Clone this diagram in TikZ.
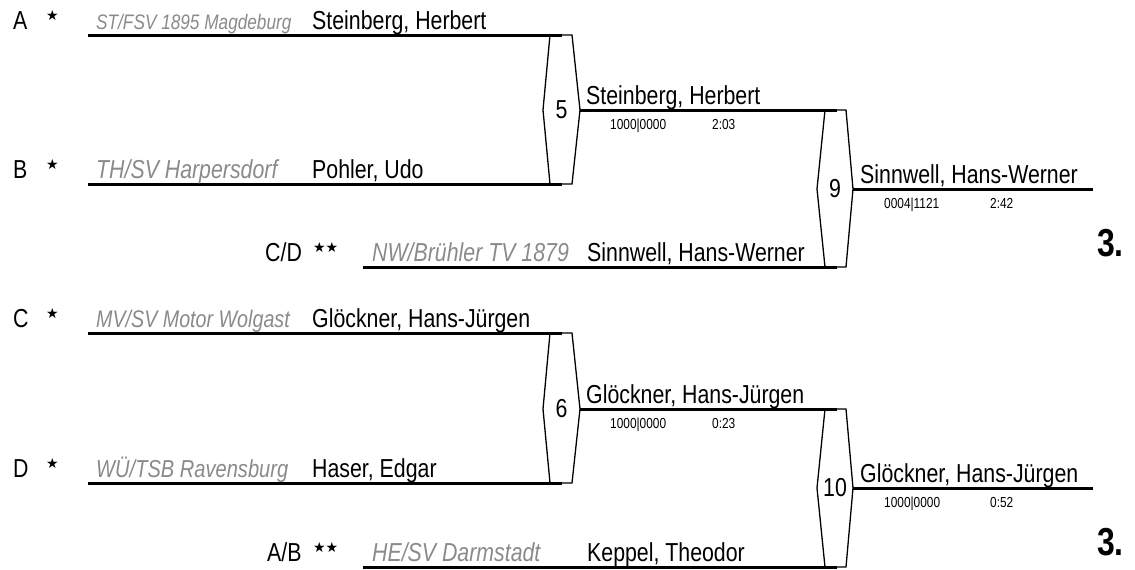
\documentclass[tikz,border=0pt]{standalone}
\usepackage{fontspec}
\setmainfont{Liberation Sans}[FakeStretch=0.82]
\newfontfamily\symfont{DejaVu Sans}
\definecolor{clubgray}{HTML}{8A8A8A}
\tikzset{
  x=1pt, y=-1pt,
  heavy/.style={line width=3pt},
  hexbox/.style={line width=1.3pt, line join=miter},
  lbl/.style={anchor=base west, inner sep=0pt, font=\fontsize{26}{28}\selectfont},
  club/.style={anchor=base west, inner sep=0pt, text=clubgray},
  score/.style={anchor=base west, inner sep=0pt, font=\fontsize{14.5}{16}\selectfont},
  seed/.style={anchor=base west, inner sep=0pt, font=\symfont\fontsize{14}{16}\selectfont},
  place/.style={anchor=base west, inner sep=0pt, font=\fontsize{39}{42}\selectfont\bfseries},
  num/.style={inner sep=0pt, font=\fontsize{26}{28}\selectfont},
}
% name, xl, xlm, xr, xrm, ytop, ymid, ybot, number
\newcommand\matchhex[9]{%
  \draw[hexbox] (#2,#6) -- (#4,#6) -- (#5,#7) -- (#4,#8) -- (#2,#8) -- (#3,#7) -- cycle;
  \node[num] (#1) at ({(#3+#5)/2},#7) {#9};
  \coordinate (#1-out) at (#5,#7);
}
\begin{document}
\begin{tikzpicture}
\useasboundingbox (0,0) rectangle (1135,570);

% ---------------- upper bracket ----------------
\matchhex{m5}{550}{543}{572}{580}{35}{110}{184}{5}
\matchhex{m9}{825}{817}{846}{853}{110}{189}{267}{9}

\coordinate (A-s) at (88,35);   \coordinate (A-e) at (562,35);
\coordinate (B-s) at (88,184);  \coordinate (B-e) at (562,184);
\coordinate (CD-s) at (363,267); \coordinate (CD-e) at (837,267);
\coordinate (w5-e) at (837,110);
\coordinate (w9-e) at (1093,189);

\draw[heavy] (A-s) -- (A-e);
\draw[heavy] (B-s) -- (B-e);
\draw[heavy] (CD-s) -- (CD-e);
\draw[heavy] (m5-out) -- (w5-e);
\draw[heavy] (m9-out) -- (w9-e);

\node[lbl] (A-l) at (13,29) {A};
\node[seed] (A-st) at (46,20) {★};
\node[club, font=\fontsize{21}{24}\selectfont\itshape] (A-c) at (96,29) {ST/FSV 1895 Magdeburg};
\node[lbl] (A-n) at (312,29) {Steinberg, Herbert};

\node[lbl] (B-l) at (13,178) {B};
\node[seed] (B-st) at (46,169) {★};
\node[club, font=\fontsize{26}{28}\selectfont\itshape] (B-c) at (96,178) {TH/SV Harpersdorf};
\node[lbl] (B-n) at (312,178) {Pohler, Udo};

\node[lbl] (w5-n) at (586,104) {Steinberg, Herbert};
\node[score] (w5-r) at (610,129) {1000|0000};
\node[score] (w5-t) at (712,129) {2:03};

\node[lbl] (CD-l) at (265,261) {C/D};
\node[seed] (CD-st) at (313,252) {★★};
\node[club, font=\fontsize{26}{28}\selectfont\itshape] (CD-c) at (372,261) {NW/Brühler TV 1879};
\node[lbl] (CD-n) at (587,261) {Sinnwell, Hans-Werner};

\node[lbl] (w9-n) at (860,183) {Sinnwell, Hans-Werner};
\node[score] (w9-r) at (884,208) {0004|1121};
\node[score] (w9-t) at (990,208) {2:42};
\node[place] (p1) at (1097,256) {3.};

% ---------------- lower bracket ----------------
\matchhex{m6}{550}{543}{572}{580}{333}{409}{483}{6}
\matchhex{m10}{825}{817}{846}{853}{409}{488}{567}{10}

\coordinate (C-s) at (88,333);   \coordinate (C-e) at (562,333);
\coordinate (D-s) at (88,483);   \coordinate (D-e) at (562,483);
\coordinate (AB-s) at (363,567); \coordinate (AB-e) at (837,567);
\coordinate (w6-e) at (837,409);
\coordinate (w10-e) at (1093,488);

\draw[heavy] (C-s) -- (C-e);
\draw[heavy] (D-s) -- (D-e);
\draw[heavy] (AB-s) -- (AB-e);
\draw[heavy] (m6-out) -- (w6-e);
\draw[heavy] (m10-out) -- (w10-e);

\node[lbl] (C-l) at (13,327) {C};
\node[seed] (C-st) at (46,318) {★};
\node[club, font=\fontsize{24}{26}\selectfont\itshape] (C-c) at (96,327) {MV/SV Motor Wolgast};
\node[lbl] (C-n) at (312,327) {Glöckner, Hans-Jürgen};

\node[lbl] (D-l) at (13,477) {D};
\node[seed] (D-st) at (46,468) {★};
\node[club, font=\fontsize{24.5}{26}\selectfont\itshape] (D-c) at (96,477) {WÜ/TSB Ravensburg};
\node[lbl] (D-n) at (312,477) {Haser, Edgar};

\node[lbl] (w6-n) at (586,403) {Glöckner, Hans-Jürgen};
\node[score] (w6-r) at (610,428) {1000|0000};
\node[score] (w6-t) at (712,428) {0:23};

\node[lbl] (AB-l) at (267,561) {A/B};
\node[seed] (AB-st) at (313,552) {★★};
\node[club, font=\fontsize{26}{28}\selectfont\itshape] (AB-c) at (372,561) {HE/SV Darmstadt};
\node[lbl] (AB-n) at (587,561) {Keppel, Theodor};

\node[lbl] (w10-n) at (860,482) {Glöckner, Hans-Jürgen};
\node[score] (w10-r) at (884,507) {1000|0000};
\node[score] (w10-t) at (990,507) {0:52};
\node[place] (p2) at (1097,555) {3.};
\end{tikzpicture}
\end{document}
